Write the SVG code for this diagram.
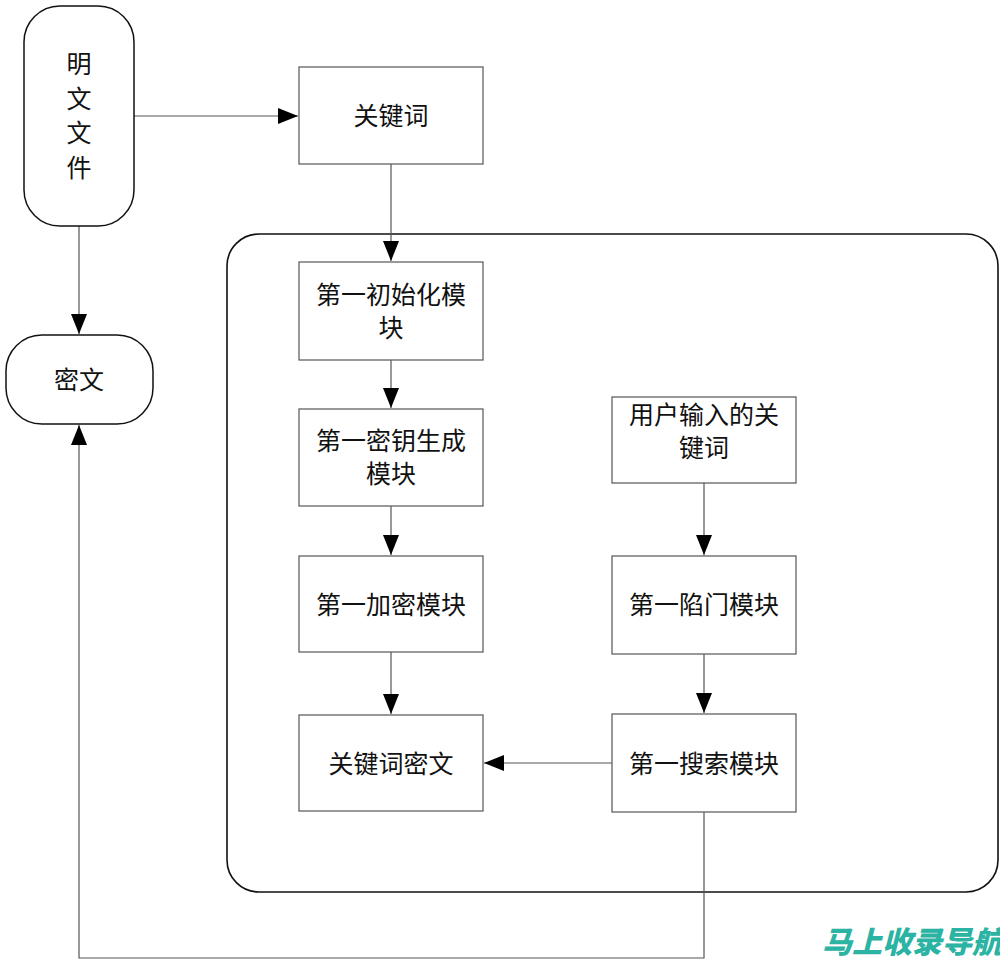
<svg xmlns="http://www.w3.org/2000/svg" width="1000" height="962" viewBox="0 0 1000 962">
<style>
.box{fill:#fff;stroke:#555;stroke-width:1.2}
.term{fill:#fff;stroke:#111;stroke-width:1.5}
.cont{fill:none;stroke:#111;stroke-width:1.6}
.ln{fill:none;stroke:#555;stroke-width:1.2}
.t{font-family:"Liberation Serif","Noto Sans CJK SC",serif;font-size:25px;fill:#111;text-anchor:middle}
.wm{font-family:"Noto Sans CJK SC",sans-serif;font-size:30px;font-weight:900;font-style:italic;fill:#2bb3a3}
</style>
<defs>
<marker id="ah" markerWidth="20" markerHeight="16" refX="20" refY="8" orient="auto" markerUnits="userSpaceOnUse">
<path d="M0,0 L20,8 L0,16 Z" fill="#000"/>
</marker>
</defs>
<rect width="1000" height="962" fill="#fff"/>
<g id="container"><rect class="cont" x="227" y="234" width="771" height="658" rx="32"/></g>
<g id="connectors">
<line class="ln" x1="134" y1="116" x2="298" y2="116" marker-end="url(#ah)"/>
<line class="ln" x1="79" y1="226" x2="79" y2="334" marker-end="url(#ah)"/>
<line class="ln" x1="391" y1="164" x2="391" y2="261" marker-end="url(#ah)"/>
<line class="ln" x1="391" y1="360" x2="391" y2="408" marker-end="url(#ah)"/>
<line class="ln" x1="391" y1="506" x2="391" y2="555" marker-end="url(#ah)"/>
<line class="ln" x1="391" y1="652" x2="391" y2="714" marker-end="url(#ah)"/>
<line class="ln" x1="704" y1="483" x2="704" y2="555" marker-end="url(#ah)"/>
<line class="ln" x1="704" y1="654" x2="704" y2="713" marker-end="url(#ah)"/>
<line class="ln" x1="612" y1="763" x2="484" y2="763" marker-end="url(#ah)"/>
<polyline class="ln" points="704,812 704,958 79,958 79,425" marker-end="url(#ah)"/>
</g>
<g id="n_plain"><rect class="term" x="24" y="6" width="110" height="220" rx="36"/>
<text class="t" x="79" y="73">明</text><text class="t" x="79" y="108">文</text><text class="t" x="79" y="142">文</text><text class="t" x="79" y="177">件</text></g>
<g id="n_cipher"><rect class="term" x="6" y="335" width="147" height="89" rx="36"/><text class="t" x="79" y="389">密文</text></g>
<g id="n_kw"><rect class="box" x="299" y="67" width="184" height="97"/><text class="t" x="391" y="125">关键词</text></g>
<g id="n_init"><rect class="box" x="299" y="262" width="184" height="98"/><text class="t" x="391" y="304">第一初始化模</text><text class="t" x="391" y="337">块</text></g>
<g id="n_keygen"><rect class="box" x="299" y="409" width="184" height="97"/><text class="t" x="391" y="450">第一密钥生成</text><text class="t" x="391" y="483">模块</text></g>
<g id="n_enc"><rect class="box" x="299" y="556" width="184" height="96"/><text class="t" x="391" y="614">第一加密模块</text></g>
<g id="n_kwc"><rect class="box" x="299" y="715" width="184" height="96"/><text class="t" x="391" y="773">关键词密文</text></g>
<g id="n_user"><rect class="box" x="612" y="397" width="184" height="86"/><text class="t" x="704" y="424">用户输入的关</text><text class="t" x="704" y="457">键词</text></g>
<g id="n_trap"><rect class="box" x="612" y="556" width="184" height="98"/><text class="t" x="704" y="614">第一陷门模块</text></g>
<g id="n_search"><rect class="box" x="612" y="714" width="184" height="98"/><text class="t" x="704" y="773">第一搜索模块</text></g>
<g id="watermark"><text class="wm" x="822" y="953">马上收录导航</text></g>
</svg>
